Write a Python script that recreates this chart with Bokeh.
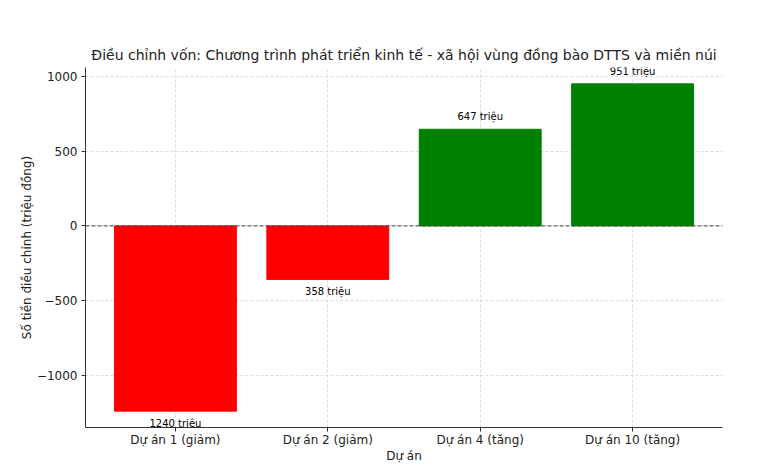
from bokeh.plotting import figure
from bokeh.models import Range1d, FixedTicker, Span, ColumnDataSource
from bokeh.core.properties import value
from bokeh.embed import file_html
from bokeh.resources import INLINE

categories = ["Dự án 1 (giảm)", "Dự án 2 (giảm)", "Dự án 4 (tăng)", "Dự án 10 (tăng)"]
values = [-1240, -358, 647, 951]
colors = ["red", "red", "green", "green"]
labels = [f"{abs(v)} triệu" for v in values]
y_ticks = [-1000, -500, 0, 500, 1000]

FONT = "DejaVu Sans"

xs = list(range(len(categories)))
vmin, vmax = min(values), max(values)
pad = 0.05 * (vmax - vmin)

p = figure(width=776, height=474, output_backend="svg", toolbar_location=None,
           x_range=Range1d(-0.4 - 0.19, len(categories) - 1 + 0.4 + 0.19),
           y_range=Range1d(vmin - pad, vmax + pad),
           min_border_left=85, min_border_right=54, min_border_top=67, min_border_bottom=47)

p.title.text = "Điều chỉnh vốn: Chương trình phát triển kinh tế - xã hội vùng đồng bào DTTS và miền núi"
p.title.align = "center"
p.title.text_font = FONT
p.title.text_font_size = "14px"
p.title.text_font_style = "normal"
p.title.text_color = "#222222"
p.title.offset = 0
p.title.standoff = 9

src = ColumnDataSource(dict(x=xs, top=values, color=colors))
p.vbar(x="x", top="top", bottom=0, width=0.8, color="color", source=src)

pos_src = ColumnDataSource(dict(x=[x for x, v in zip(xs, values) if v >= 0],
                                y=[v for v in values if v >= 0],
                                t=[l for l, v in zip(labels, values) if v >= 0]))
neg_src = ColumnDataSource(dict(x=[x for x, v in zip(xs, values) if v < 0],
                                y=[v for v in values if v < 0],
                                t=[l for l, v in zip(labels, values) if v < 0]))
p.text(x="x", y="y", text="t", source=pos_src, text_align="center", text_baseline="bottom",
       y_offset=-7, text_font=value(FONT), text_font_size="10px", text_color="black")
p.text(x="x", y="y", text="t", source=neg_src, text_align="center", text_baseline="top",
       y_offset=7, text_font=value(FONT), text_font_size="10px", text_color="black")

p.add_layout(Span(location=0, dimension="width", line_color="#444444", line_dash="4 2", line_width=1))

p.outline_line_color = None
p.xaxis.ticker = FixedTicker(ticks=xs)
p.xaxis.major_label_overrides = {i: c for i, c in enumerate(categories)}
p.yaxis.ticker = FixedTicker(ticks=y_ticks)
p.yaxis.major_label_overrides = {t: (str(t).replace("-", "\u2212")) for t in y_ticks}
p.xaxis.minor_tick_line_color = None
p.yaxis.minor_tick_line_color = None
for ax in (p.xaxis[0], p.yaxis[0]):
    ax.axis_line_color = "#333333"
    ax.major_tick_line_color = "#333333"
    ax.major_tick_out = 4
    ax.major_tick_in = 0
    ax.major_label_text_font = FONT
    ax.major_label_text_font_size = "12px"
    ax.major_label_text_color = "#222222"
    ax.axis_label_text_font = FONT
    ax.axis_label_text_font_size = "12px"
    ax.axis_label_text_font_style = "normal"
    ax.axis_label_text_color = "#222222"
p.xaxis.major_label_standoff = 1
p.yaxis.major_label_standoff = 4
p.xaxis.axis_label = "Dự án"
p.yaxis.axis_label = "Số tiền điều chỉnh (triệu đồng)"
p.xaxis.axis_label_standoff = -1
p.yaxis.axis_label_standoff = 0

p.xgrid.ticker = FixedTicker(ticks=xs)
p.ygrid.ticker = FixedTicker(ticks=y_ticks)
for g in (p.xgrid[0], p.ygrid[0]):
    g.grid_line_color = "#d4d4d4"
    g.grid_line_dash = "3 2"
    g.grid_line_width = 0.8

open("out.html", "w").write(file_html(p, INLINE))
